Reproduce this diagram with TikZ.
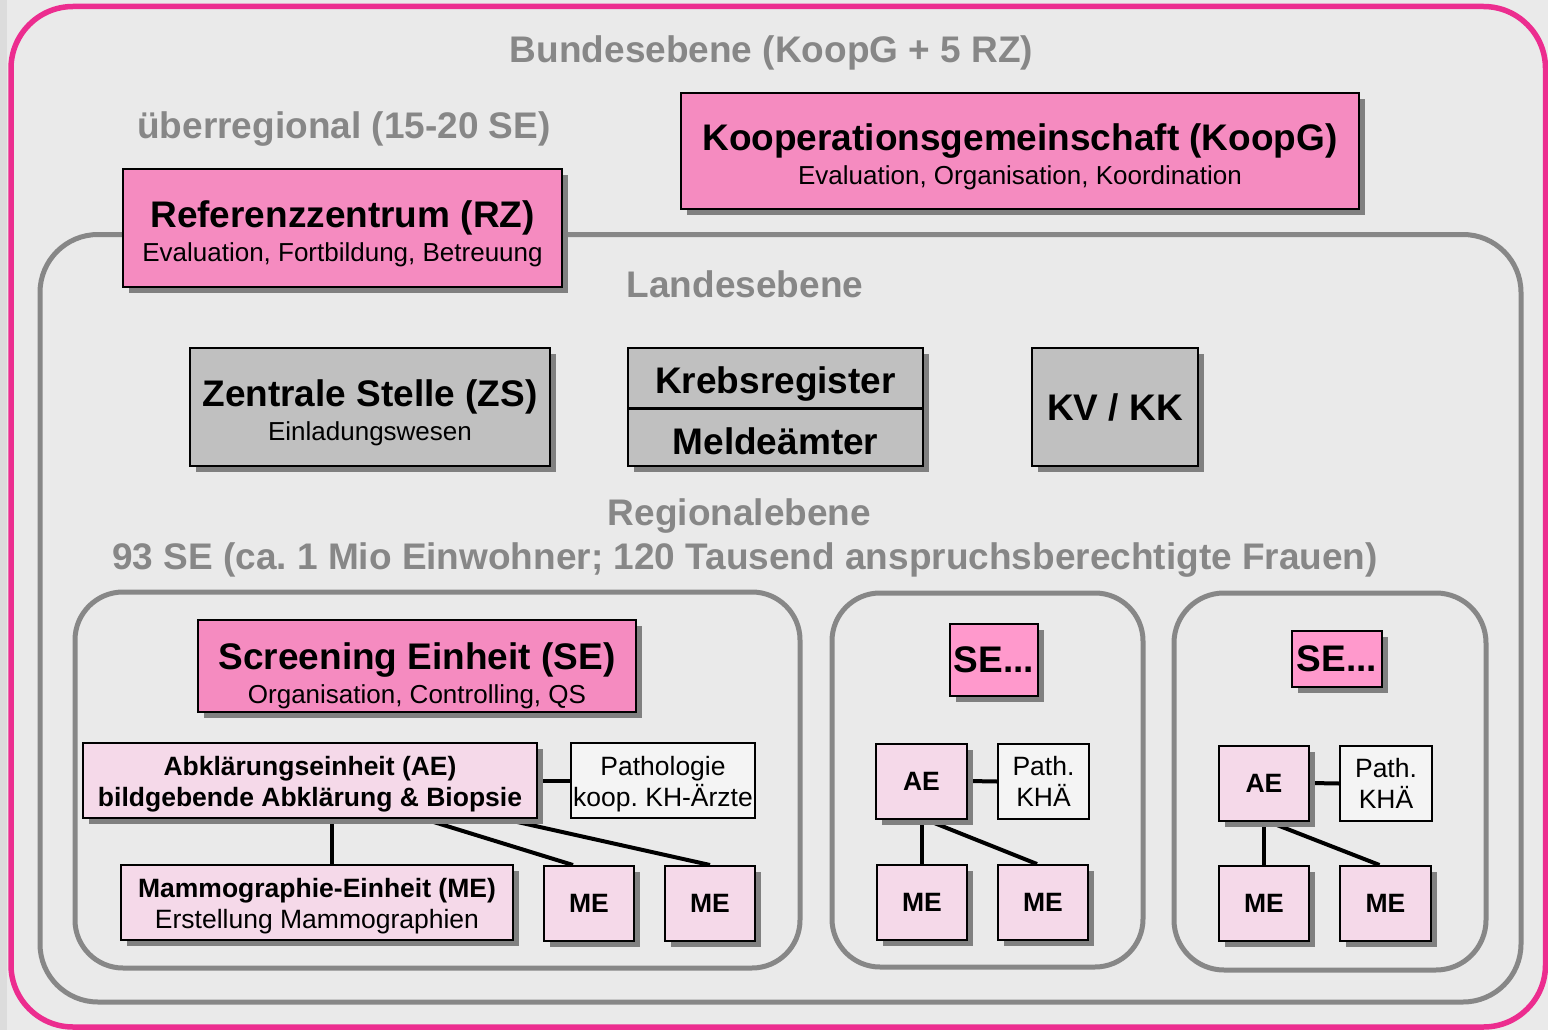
\documentclass[tikz,border=0pt]{standalone}
\usepackage{fontspec}
\setmainfont{Liberation Sans}
\usetikzlibrary{shadows,calc}
\definecolor{bg}{HTML}{EAEAEA}
\definecolor{strip}{HTML}{DCDCDC}
\definecolor{framepink}{HTML}{EC2D8F}
\definecolor{lvlgray}{HTML}{878787}
\definecolor{txtgray}{HTML}{878787}
\definecolor{pinkA}{HTML}{F58BC0}
\definecolor{pinkB}{HTML}{FF99CC}
\definecolor{pinkL}{HTML}{F5D9E9}
\definecolor{boxgray}{HTML}{C0C0C0}
\definecolor{shade}{HTML}{808080}
\definecolor{pathfill}{HTML}{F4F4F4}
\pgfdeclarelayer{back}\pgfdeclarelayer{mid}\pgfsetlayers{back,mid,main}
\newcommand\fT{\fontsize{37}{34}\selectfont\bfseries}
\newcommand\fS{\fontsize{26}{34}\selectfont}
\newcommand\fB{\fontsize{26.5}{31}\selectfont\bfseries}
\newcommand\fR{\fontsize{26.5}{31}\selectfont\mdseries}
\newcommand\upT{\rule{0pt}{39pt}}
\newcommand\upTT{\rule{0pt}{47pt}}
\newcommand\upS{\rule{0pt}{27pt}}
\frenchspacing
\begin{document}
\frenchspacing
\begin{tikzpicture}[x=1pt,y=-1pt,
  boxbase/.style={draw=black,line width=2pt,inner sep=0pt,align=center,anchor=center},
  shad/.style={general shadow={fill=shade,shadow xshift=6pt,shadow yshift=-6pt}},
  bigpink/.style={boxbase,shad,fill=pinkA,font=\fS},
  sepink/.style={boxbase,shad,fill=pinkB,font=\fT},
  graybox/.style={boxbase,shad,fill=boxgray,font=\fS},
  lightpink/.style={boxbase,shad,fill=pinkL,font=\fB},
  pathbox/.style={boxbase,fill=pathfill,font=\fR},
  lvltext/.style={text=txtgray,font=\fT,anchor=base,inner sep=0pt},
  plaintext/.style={font=\fT,inner sep=0pt},
  conn/.style={draw=black,line width=4pt},
  container/.style={draw=lvlgray,line width=5pt}
]
\useasboundingbox (0,0) rectangle (1548,1030);
\begin{pgfonlayer}{back}
  \fill[bg] (0,0) rectangle (1548,1030);
  \fill[strip] (0,0) rectangle (7,1030);
\end{pgfonlayer}

% containers
\draw[draw=framepink,line width=5.5pt,rounded corners=62pt] (11,6.5) rectangle (1545.5,1027);
\draw[container,rounded corners=58pt] (40,234.5) rectangle (1521,1002);
\draw[container,rounded corners=48pt] (75,592) rectangle (800,968);
\draw[container,rounded corners=48pt] (832,593) rectangle (1143,967);
\draw[container,rounded corners=50pt] (1174,593) rectangle (1486,970);

% level texts
\node[lvltext] (tBund) at (771.5,63) {Bundesebene (KoopG + 5 RZ)};
\node[lvltext] (tUeber) at (344,139) {überregional (15-20 SE)};
\node[lvltext] (tLand) at (745,297) {Landesebene};
\node[lvltext] (tReg) at (739.5,525) {Regionalebene};
\node[lvltext] (tSE) at (745,569) {93 SE (ca. 1 Mio Einwohner; 120 Tausend anspruchsberechtigte Frauen)};

% top boxes
\node[bigpink,minimum width=678pt,minimum height=116pt] (koop) at (1020,151)
  {\upT{\fT Kooperationsgemeinschaft (KoopG)}\\Evaluation, Organisation, Koordination};
\node[bigpink,minimum width=439pt,minimum height=118pt] (rz) at (342.5,228)
  {\upT{\fT Referenzzentrum (RZ)}\\Evaluation, Fortbildung, Betreuung};

% Landesebene boxes
\node[graybox,minimum width=360pt,minimum height=118pt] (zs) at (370,407)
  {\upT{\fT Zentrale Stelle (ZS)}\\Einladungswesen};
\node[graybox,minimum width=295pt,minimum height=118pt] (kreb) at (775.5,407) {};
\draw[line width=3pt] ($(kreb.west)+(0,1)$) -- ($(kreb.east)+(0,1)$);
\node[plaintext] (kr1) at (775.5,384) {Krebsregister};
\node[plaintext] (kr2) at (775.5,441) {Meldeämter};
\node[graybox,font=\fT,minimum width=166pt,minimum height=118pt] (kv) at (1115,407) {KV / KK};

% Regional box 1
\node[bigpink,minimum width=438pt,minimum height=92pt] (se) at (417,666)
  {\upTT{\fT Screening Einheit (SE)}\\Organisation, Controlling, QS};
\node[lightpink,minimum width=454pt,minimum height=75pt] (ae) at (310,780.5)
  {\upS Abklärungseinheit (AE)\\bildgebende Abklärung \& Biopsie};
\node[pathbox,minimum width=184pt,minimum height=75pt] (path) at (663,780.5)
  {\upS Pathologie\\koop. KH-Ärzte};
\node[lightpink,minimum width=392pt,minimum height=75pt] (mam) at (317,902.5)
  {\upS Mammographie-Einheit (ME)\\{\fR Erstellung Mammographien}};
\node[lightpink,minimum width=90pt,minimum height=75pt] (me1) at (589,903.5) {ME};
\node[lightpink,minimum width=90pt,minimum height=75pt] (me2) at (710,903.5) {ME};

% Regional box 2
\node[sepink,minimum width=88pt,minimum height=72pt] (se2) at (994,660) {SE...};
\node[lightpink,minimum width=91pt,minimum height=75pt] (ae2) at (921.5,781) {AE};
\node[pathbox,minimum width=91pt,minimum height=75pt] (path2) at (1043.5,781.5) {Path.\\KHÄ};
\node[lightpink,minimum width=90pt,minimum height=75pt] (me21) at (922,902.5) {ME};
\node[lightpink,minimum width=90pt,minimum height=75pt] (me22) at (1043,902.5) {ME};

% Regional box 3
\node[sepink,minimum width=90pt,minimum height=56pt] (se3) at (1337,659) {SE...};
\node[lightpink,minimum width=90pt,minimum height=75pt] (ae3) at (1264,783) {AE};
\node[pathbox,minimum width=92pt,minimum height=75pt] (path3) at (1386,783.5) {Path.\\KHÄ};
\node[lightpink,minimum width=90pt,minimum height=75pt] (me31) at (1264,903.5) {ME};
\node[lightpink,minimum width=91pt,minimum height=75pt] (me32) at (1385.5,903.5) {ME};

% connectors
\begin{pgfonlayer}{mid}
  \draw[conn] (ae.east) -- (path.west);
  \coordinate (v1) at ($(mam.north)+(15,0)$);
  \draw[conn] (v1) -- (v1 |- ae.south);
  \draw[conn] ($(ae.south west)+(342,0)$) -- ($(me1.north)+(-16,0)$);
  \draw[conn] ($(ae.south west)+(422,0)$) -- (me2.north);
  \draw[conn] (ae2.east) -- (path2.west);
  \draw[conn] (me21.north) -- (me21.north |- ae2.south);
  \draw[conn] ($(ae2.south)+(4,0)$) -- ($(me22.north)+(-6,0)$);
  \draw[conn] (ae3.east) -- (path3.west);
  \draw[conn] (me31.north) -- (me31.north |- ae3.south);
  \draw[conn] ($(ae3.south)+(4,0)$) -- ($(me32.north)+(-6,0)$);
\end{pgfonlayer}
\end{tikzpicture}
\end{document}
